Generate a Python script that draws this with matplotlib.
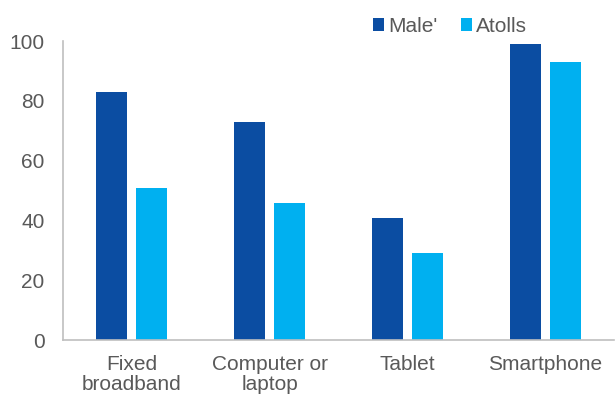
import numpy as np
import matplotlib.pyplot as plt

categories = ["Fixed\nbroadband", "Computer or\nlaptop", "Tablet", "Smartphone"]
male = [83, 73, 41, 99]
atolls = [51, 46, 29, 93]
yticks = [0, 20, 40, 60, 80, 100]

plt.rcParams['font.family'] = ['Liberation Sans', 'DejaVu Sans']

fig = plt.figure(figsize=(6.15, 3.96), dpi=100)
ax = fig.add_axes([0.102, 0.141, 0.897, 0.755])

x = np.arange(len(categories))
w = 0.225
ax.bar(x - 0.143, male, w, color="#0B4DA2", label="Male'")
ax.bar(x + 0.143, atolls, w, color="#00B0F0", label="Atolls")

ax.set_xlim(-0.5, len(categories) - 0.5)
ax.set_ylim(0, 100)
ax.set_yticks(yticks)
ax.set_xticks(x)
ax.set_xticklabels(categories, fontsize=15, color="#595959", linespacing=1.1)
ax.tick_params(axis='y', labelsize=15, labelcolor="#595959", length=0, pad=13)
ax.tick_params(axis='x', length=0, pad=10.5)

for s in ['top', 'right']:
    ax.spines[s].set_visible(False)
for s in ['left', 'bottom']:
    ax.spines[s].set_color("#BFBFBF")
    ax.spines[s].set_linewidth(1.2)

fig.legend(loc='upper left', bbox_to_anchor=(0.576, 1.005), ncol=2, frameon=False,
           fontsize=15, labelcolor="#595959", handlelength=0.55, handleheight=0.55,
           handletextpad=0.2, columnspacing=1.1)

fig.savefig("out.png", dpi=100)
